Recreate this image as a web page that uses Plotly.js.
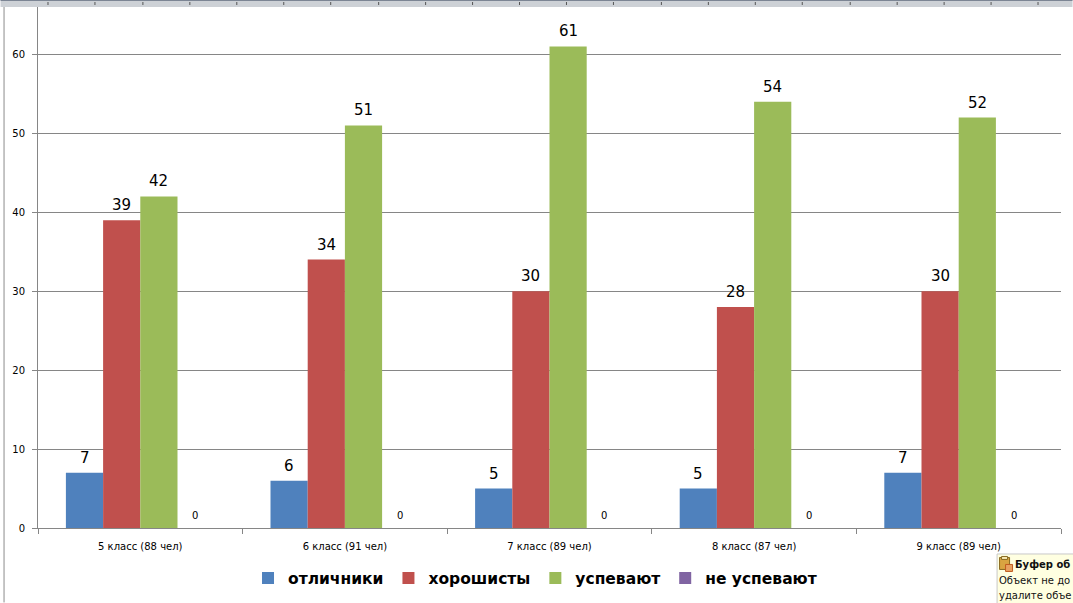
<!DOCTYPE html>
<html><head><meta charset="utf-8">
<script src="https://cdn.plot.ly/plotly-3.0.1.min.js"></script>
<style>html,body{margin:0;padding:0;background:#fff;overflow:hidden}</style></head>
<body><div id="chart" style="width:1073px;height:603px"></div>
<script>
const categories = ["5 класс (88 чел)","6 класс (91 чел)","7 класс (89 чел)","8 класс (87 чел)","9 класс (89 чел)"];
const otlichniki = [7,6,5,5,7];
const horoshisty = [39,34,30,28,30];
const uspevayut = [42,51,61,54,52];
const neUspevayut = [0,0,0,0,0];
const seriesNames = ["отличники","хорошисты","успевают","не успевают"];
const seriesColors = ["#4F81BD","#C0504D","#9BBB59","#8064A2"];
const rulerTicks = [47,94,142,189,236,283,330,378,425,472,519,566,613,661,708,755,802,850,897,944,991,1038];
const W=1073,H=603,L=37.5,R=11.5,T=7,B=74.5;
const PW=W-L-R,PH=H-T-B,GAP=0.2727;
const px=x=>(x-L)/PW, py=y=>1-(y-T)/PH;
const allSeries=[otlichniki,horoshisty,uspevayut,neUspevayut];
const data=allSeries.map((vals,i)=>({type:'bar',name:seriesNames[i],x:categories,y:vals,
  marker:{color:seriesColors[i]},cliponaxis:false,hoverinfo:'skip'}));
const barFrac=(1-GAP)/allSeries.length;
const labels=[];
allSeries.forEach((vals,s)=>vals.forEach((v,c)=>labels.push({xref:'x',yref:'y',x:c+(s-1.5)*barFrac,y:v,
  xanchor:'center',yanchor:'bottom',yshift:s===3?5:4,xshift:s===3?-1:0,showarrow:false,text:String(v),
  font:{family:'DejaVu Sans',size:s===3?10:15,color:'#000'}})));
const sh=(type,x0,x1,y0,y1,o)=>Object.assign({type,xref:'paper',yref:'paper',x0:px(x0),x1:px(x1),y0:py(y0),y1:py(y1)},o);
const shapes=[
 sh('rect',0,W,0,7,{fillcolor:'#CDD1D6',line:{width:0}}),
 sh('line',0,W,0.5,0.5,{line:{color:'#7C8594',width:1}}),
 sh('line',3.5,3.5,7,603,{line:{color:'#8C8C8C',width:1}}),
 sh('rect',997.5,1075,554.5,605,{fillcolor:'#FFFFE1',line:{color:'#C8C8C8',width:1}}),
 sh('rect',1000,1010,558,570,{fillcolor:'#D9A441',line:{color:'#8A6A20',width:1}}),
 sh('rect',1002,1008,557,560,{fillcolor:'#F5E6B0',line:{color:'#8A6A20',width:1}}),
 sh('rect',1006,1013,565,572,{fillcolor:'#E8A060',line:{color:'#C05A20',width:1}})
];
rulerTicks.forEach(t=>shapes.push(sh('line',t+.5,t+.5,2,5,{line:{color:'#555',width:1}})));
const note=(x,y,t,b)=>({xref:'paper',yref:'paper',x:px(x),y:py(y),xanchor:'left',yanchor:'middle',showarrow:false,
  text:b?'<b>'+t+'</b>':t,align:'left',font:{family:'DejaVu Sans',size:10,color:'#111'}});
const layout={width:W,height:H,paper_bgcolor:'#fff',plot_bgcolor:'#fff',showlegend:true,
 margin:{l:L,r:R,t:T,b:B,pad:0},barmode:'group',bargap:GAP,bargroupgap:0,
 font:{family:'DejaVu Sans',color:'#000'},
 xaxis:{type:'category',showline:true,linecolor:'#868686',linewidth:1,ticks:'outside',ticklen:5,tickcolor:'#868686',tickson:'boundaries',
   tickfont:{family:'DejaVu Sans',size:10},ticklabelstandoff:9,showgrid:false,zeroline:false,automargin:false},
 yaxis:{range:[0,66],tickvals:[0,10,20,30,40,50,60],ticktext:['0','10','20','30','40','50','60'],showline:true,linecolor:'#868686',linewidth:1,
   ticks:'outside',ticklen:5,tickcolor:'#868686',tickfont:{family:'DejaVu Sans',size:10},ticklabelstandoff:5,
   showgrid:true,gridcolor:'#868686',gridwidth:1,zeroline:false,automargin:false},
 legend:{orientation:'h',x:px(535),xanchor:'center',y:py(579),yanchor:'middle',font:{family:'DejaVu Sans',size:15.5,weight:'bold',color:'#000'},itemclick:false,bgcolor:'rgba(0,0,0,0)'},
 shapes:shapes,
 annotations:labels.concat([note(1013,565,'Буфер об',true),note(997,581,'Объект не до'),note(997,596,'удалите объе')])
};
Plotly.newPlot('chart',data,layout,{displayModeBar:false,staticPlot:true});
</script></body></html>
